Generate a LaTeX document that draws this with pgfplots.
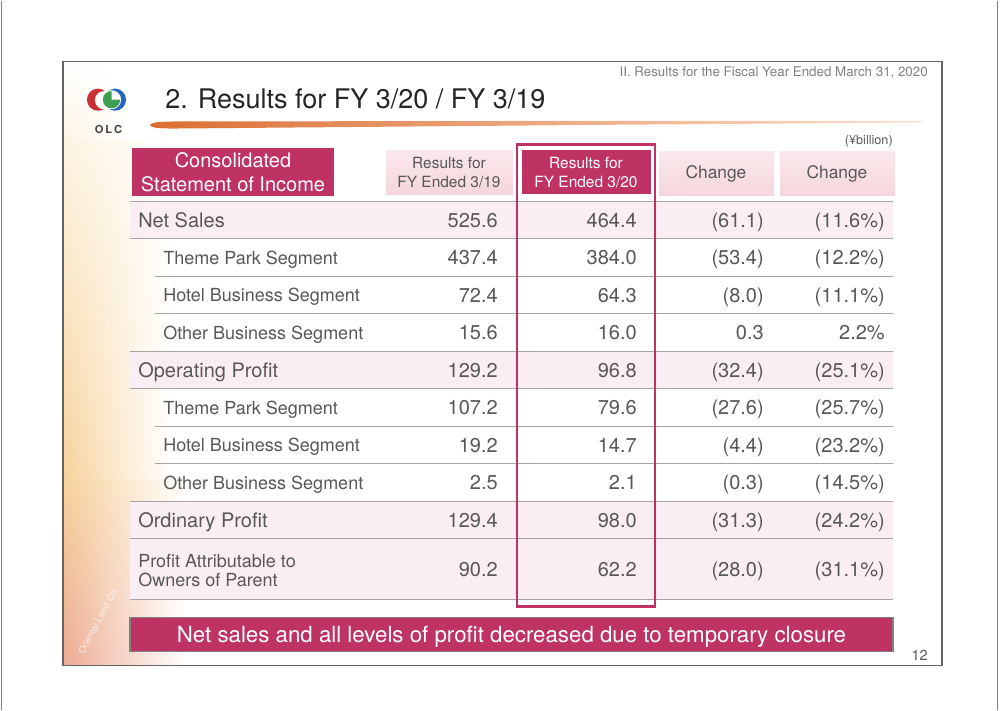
\documentclass[border=0pt]{standalone}
\usepackage{pgfplots}
\pgfplotsset{compat=1.18}
\usepackage{pgfplotstable}
\usetikzlibrary{shadings}
\usepackage{fontspec}
\setmainfont{TeX Gyre Heros}
\definecolor{mag}{RGB}{190,50,100}
\definecolor{txt}{RGB}{88,88,88}
\definecolor{rowpink}{RGB}{250,238,244}
\definecolor{hdrpinkA}{RGB}{250,232,236}
\definecolor{hdrpinkB}{RGB}{245,214,220}
\definecolor{linegray}{RGB}{165,165,165}
\definecolor{framegray}{RGB}{100,100,100}
\definecolor{logored}{RGB}{200,50,55}
\definecolor{logoblue}{RGB}{35,100,190}
\definecolor{logogreen}{RGB}{60,160,80}
\definecolor{swA}{RGB}{220,110,50}
\definecolor{swB}{RGB}{250,226,208}
\definecolor{grUL}{RGB}{253,244,226}
\definecolor{grML}{RGB}{246,210,155}
\definecolor{grLL}{RGB}{236,170,148}

\pgfplotstableread[col sep=comma]{
y,label
219.5,Net Sales
369.5,Operating Profit
519.5,Ordinary Profit
}\mainlabels

\pgfplotstableread[col sep=comma]{
y,label
257,Theme Park Segment
294.5,Hotel Business Segment
332,Other Business Segment
407,Theme Park Segment
444.5,Hotel Business Segment
482,Other Business Segment
}\sublabels

\pgfplotstableread{
y fya fyb chg pct
219.5 525.6 464.4 (61.1) (11.6\%)
257 437.4 384.0 (53.4) (12.2\%)
294.5 72.4 64.3 (8.0) (11.1\%)
332 15.6 16.0 0.3 2.2\%
369.5 129.2 96.8 (32.4) (25.1\%)
407 107.2 79.6 (27.6) (25.7\%)
444.5 19.2 14.7 (4.4) (23.2\%)
482 2.5 2.1 (0.3) (14.5\%)
519.5 129.4 98.0 (31.3) (24.2\%)
568.5 90.2 62.2 (28.0) (31.1\%)
}\values

\pgfplotsset{
  valplot/.style={only marks, mark=none, nodes near coords, point meta=explicit symbolic,
    nodes near coords style={anchor=east, inner sep=0pt, text height=10.8pt, text depth=0pt,
      font=\fontsize{15}{18}\selectfont, text=txt}},
  mainlab/.style={only marks, mark=none, nodes near coords, point meta=explicit symbolic,
    nodes near coords style={anchor=west, inner sep=0pt, text height=10.8pt, text depth=0pt,
      font=\fontsize{15}{18}\selectfont, text=txt}},
  sublab/.style={only marks, mark=none, nodes near coords, point meta=explicit symbolic,
    nodes near coords style={anchor=west, inner sep=0pt, text height=9.72pt, text depth=0pt,
      font=\fontsize{13.5}{16}\selectfont, text=txt}},
}

\begin{document}
\begin{tikzpicture}
\begin{axis}[width=750pt, height=531.75pt, scale only axis, hide axis, clip=false,
  xmin=0, xmax=1000, ymin=0, ymax=709, y dir=reverse]
% background
\fill[white] (0,0) rectangle (1000,709);
\draw[gray, line width=1pt] (1.5,0) -- (1.5,709);
\draw[gray, line width=1pt] (997.5,0) -- (997.5,709);
% left decorative gradient
\shade[upper left=white, lower left=grUL, upper right=white, lower right=white] (63,61) rectangle (130,140);
\shade[upper left=grUL, lower left=grML, upper right=white, lower right=white] (63,140) rectangle (170,480);
\shade[upper left=grML, lower left=grLL, upper right=white, lower right=white] (63,480) rectangle (185,665);
% frame
\draw[framegray, line width=1.1pt] (63,61) rectangle (942,665);
% top right caption
\node[anchor=base east, inner sep=0pt, font=\fontsize{10}{12}\selectfont, text=gray] at (928,76) {II. Results for the Fiscal Year Ended March 31, 2020};
% logo
\fill[logored] (98,99) circle[radius=8.3pt];
\fill[white] (104,99.5) circle[radius=6.8pt];
\fill[logoblue] (115,99) circle[radius=8.3pt];
\fill[white] (111.5,99) circle[radius=7.2pt];
\fill[logogreen] (111.5,99) circle[radius=6.5pt];
\fill[white] (111.5,99) -- ++(6.6pt,0pt) arc[start angle=0, end angle=90, radius=6.6pt] -- cycle;
\node[inner sep=0pt, font=\bfseries\fontsize{8.3}{9}\selectfont, text=black!75] at (108.5,129) {O\,L\,C};
% title
\node[anchor=base west, inner sep=0pt, font=\fontsize{20.25}{24}\selectfont, text=black!85] at (165,107.5) {2. Results for FY 3/20 / FY 3/19};
% swoosh
\shade[left color=swA, right color=swB] (150,124.5) .. controls (152,121) and (162,120.8) .. (182,120.8) -- (600,120.2) -- (922,120.3) -- (922,121.8) -- (600,124.2) -- (182,127.8) .. controls (162,128) and (152,127.8) .. (150,124.5) -- cycle;
% unit
\node[anchor=base east, inner sep=0pt, font=\fontsize{9.5}{11}\selectfont, text=txt] at (893,144) {(¥billion)};
% header boxes
\fill[mag] (131.5,147) rectangle (334,195);
\node[align=center, inner sep=0pt, text=white, font=\fontsize{15}{18}\selectfont] at (233,171.5) {Consolidated\\Statement of Income};
\shade[top color=hdrpinkA, bottom color=hdrpinkB] (386,150) rectangle (513,194);
\node[align=center, inner sep=0pt, text=txt, font=\fontsize{11.6}{14.3}\selectfont] at (449,172) {Results for\\FY Ended 3/19};
\fill[mag] (522,149) rectangle (651,193);
\node[align=center, inner sep=0pt, text=white, font=\fontsize{11.6}{14.3}\selectfont] at (586,171.5) {Results for\\FY Ended 3/20};
\shade[top color=hdrpinkA, bottom color=hdrpinkB] (659,151) rectangle (774,195);
\shade[top color=hdrpinkA, bottom color=hdrpinkB] (780,151) rectangle (895,195);
\node[inner sep=0pt, text=txt, font=\fontsize{13}{15}\selectfont] at (716,173) {Change};
\node[inner sep=0pt, text=txt, font=\fontsize{13}{15}\selectfont] at (837,173) {Change};
% row backgrounds
\fill[rowpink] (130,201) rectangle (893,238);
\fill[rowpink] (130,351) rectangle (893,388);
\fill[rowpink] (130,501) rectangle (893,599);
% row lines
\draw[linegray, line width=1.1pt] (130,201) -- (893,201);
\draw[linegray, line width=1.1pt] (130,238) -- (893,238);
\draw[linegray, line width=1.1pt] (155,276) -- (893,276);
\draw[linegray, line width=1.1pt] (155,313) -- (893,313);
\draw[linegray, line width=1.1pt] (130,351) -- (893,351);
\draw[linegray, line width=1.1pt] (130,388) -- (893,388);
\draw[linegray, line width=1.1pt] (155,426) -- (893,426);
\draw[linegray, line width=1.1pt] (155,463) -- (893,463);
\draw[linegray, line width=1.1pt] (130,501) -- (893,501);
\draw[linegray, line width=1.1pt] (130,538) -- (893,538);
\draw[linegray, line width=1.1pt] (130,599) -- (893,599);
% labels
\addplot[mainlab] table[x expr=138, y=y, meta=label] {\mainlabels};
\addplot[sublab] table[x expr=163, y=y, meta=label] {\sublabels};
\node[anchor=west, align=left, inner sep=0pt, text=txt, font=\fontsize{13.5}{14.3}\selectfont] at (138,569.5) {Profit Attributable to\\Owners of Parent};
% values
\addplot[valplot] table[x expr=498, y=y, meta=fya] {\values};
\addplot[valplot] table[x expr=637, y=y, meta=fyb] {\values};
\addplot[valplot] table[x expr=764, y=y, meta=chg] {\values};
\addplot[valplot] table[x expr=885, y=y, meta=pct] {\values};
% highlight box
\draw[mag, line width=2.2pt] (517,144) rectangle (655,606);
% banner
\fill[mag, draw=gray, line width=0.8pt] (130,617) rectangle (893,651);
\node[anchor=base, inner sep=0pt, text=white, font=\fontsize{16.7}{20}\selectfont] at (511.5,642) {Net sales and all levels of profit decreased due to temporary closure};
% watermark
\node[rotate=62, inner sep=0pt, text=white, opacity=0.7, font=\fontsize{7}{8}\selectfont] at (98,620) {Oriental~Land~Co.};
% page number
\node[anchor=base east, inner sep=0pt, text=txt, font=\fontsize{10.8}{13}\selectfont] at (928,660) {12};
\end{axis}
\end{tikzpicture}
\end{document}
